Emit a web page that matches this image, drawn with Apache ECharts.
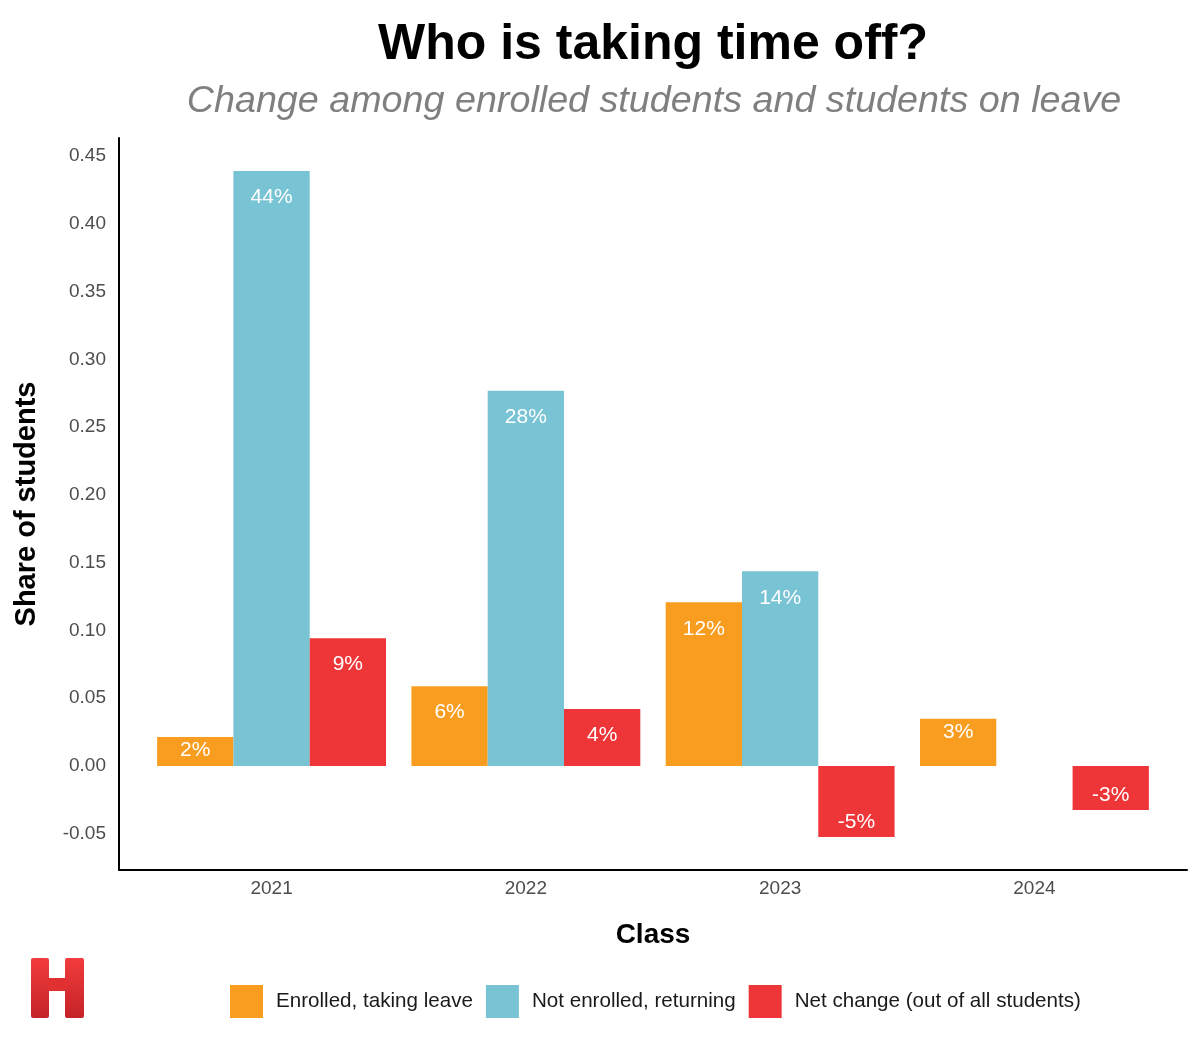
<!DOCTYPE html>
<html>
<head>
<meta charset="utf-8">
<script src="https://cdn.jsdelivr.net/npm/echarts@6/dist/echarts.min.js"></script>
<style>
html,body{margin:0;padding:0;background:#fff;}
#chart{width:1200px;height:1043px;}
</style>
</head>
<body>
<div id="chart"></div>
<script>
var categories = ['2021', '2022', '2023', '2024'];
var seriesNames = ['Enrolled, taking leave', 'Not enrolled, returning', 'Net change (out of all students)'];
var enrolledLeave = [0.0214, 0.0589, 0.1208, 0.0348];
var notEnrolledReturning = [0.4389, 0.2769, 0.1436, null];
var netChange = [0.0943, 0.0420, -0.0523, -0.0324];
var yTickStep = 0.05;

var colors = ['#F89D1F', '#78C3D4', '#EE3537'];
var FONT = '"Liberation Sans", Arial, Helvetica, sans-serif';

function buildData(values) {
  var out = [];
  for (var i = 0; i < values.length; i++) {
    if (values[i] === null) continue;
    var v = values[i];
    var item = { value: [i + 1, v] };
    if (v < 0) {
      item.label = { position: 'insideBottom', distance: 4 };
    } else if (v < 0.04) {
      item.label = { position: 'insideTop', distance: 3 };
    } else {
      item.label = { position: 'insideTop', distance: 16 };
    }
    out.push(item);
  }
  return out;
}

var allSeries = [enrolledLeave, notEnrolledReturning, netChange].map(function (vals, k) {
  return {
    name: seriesNames[k],
    type: 'bar',
    data: buildData(vals),
    barWidth: 76.3,
    barGap: '0%',
    itemStyle: { color: colors[k] },
    label: {
      show: true,
      color: '#ffffff',
      fontFamily: FONT,
      fontSize: 21,
      formatter: function (p) { return Math.round(p.value[1] * 100) + '%'; }
    }
  };
});

var chart = echarts.init(document.getElementById('chart'), null, { renderer: 'canvas' });
chart.setOption({
  backgroundColor: '#ffffff',
  animation: false,
  textStyle: { fontFamily: FONT },
  grid: { left: 119, right: 13, top: 138, bottom: 173, containLabel: false },
  xAxis: {
    type: 'value',
    min: 0.4,
    max: 4.6,
    minInterval: 1,
    maxInterval: 1,
    splitLine: { show: false },
    axisTick: { show: false },
    axisLine: { show: true, onZero: false, lineStyle: { color: '#000000', width: 2 } },
    axisLabel: {
      showMinLabel: false,
      showMaxLabel: false,
      color: '#4d4d4d',
      fontSize: 19,
      fontFamily: FONT,
      margin: 9,
      formatter: function (v) {
        var idx = Math.round(v) - 1;
        return (Math.abs(v - Math.round(v)) < 1e-6 && categories[idx]) ? categories[idx] : '';
      }
    },
    name: 'Class',
    nameLocation: 'middle',
    nameGap: 51,
    nameTextStyle: { color: '#000000', fontSize: 28, fontWeight: 'bold', fontFamily: FONT }
  },
  yAxis: {
    type: 'value',
    min: -0.0767,
    max: 0.4633,
    splitNumber: 10,
    minInterval: yTickStep,
    maxInterval: yTickStep,
    splitLine: { show: false },
    axisTick: { show: false },
    axisLine: { show: true, lineStyle: { color: '#000000', width: 2 } },
    axisLabel: {
      showMinLabel: false,
      showMaxLabel: false,
      color: '#4d4d4d',
      fontSize: 19,
      fontFamily: FONT,
      margin: 13,
      formatter: function (v) { return v.toFixed(2); }
    },
    name: 'Share of students',
    nameLocation: 'middle',
    nameRotate: 90,
    nameGap: 78,
    nameTextStyle: { color: '#000000', fontSize: 29, fontWeight: 'bold', fontFamily: FONT }
  },
  legend: {
    left: 230,
    top: 985,
    padding: 0,
    itemWidth: 33,
    itemHeight: 33,
    itemGap: 13,
    icon: 'rect',
    data: seriesNames,
    textStyle: { color: '#1a1a1a', fontSize: 20.6, fontFamily: FONT, padding: [0, 0, 0, 8] }
  },
  graphic: [
    {
      type: 'text', x: 653, y: 45,
      style: { text: 'Who is taking time off?', textAlign: 'center', textVerticalAlign: 'middle',
        fill: '#000000', font: 'bold 50px ' + FONT }
    },
    {
      type: 'text', x: 654, y: 102,
      style: { text: 'Change among enrolled students and students on leave', textAlign: 'center', textVerticalAlign: 'middle',
        fill: '#7f7f7f', font: 'italic 37.7px ' + FONT }
    },
    {
      type: 'group', x: 31, y: 958,
      children: [
        { type: 'rect', shape: { x: 0, y: 0, width: 18, height: 60, r: 2 },
          style: { fill: new echarts.graphic.LinearGradient(0, 0, 0, 1, [{ offset: 0, color: '#F23B3C' }, { offset: 1, color: '#C42328' }]) } },
        { type: 'rect', shape: { x: 34, y: 0, width: 19, height: 60, r: 2 },
          style: { fill: new echarts.graphic.LinearGradient(0, 0, 0, 1, [{ offset: 0, color: '#F23B3C' }, { offset: 1, color: '#C42328' }]) } },
        { type: 'rect', shape: { x: 17, y: 20, width: 18, height: 13 },
          style: { fill: '#E0302F' } }
      ]
    }
  ],
  series: allSeries
});
</script>
</body>
</html>
